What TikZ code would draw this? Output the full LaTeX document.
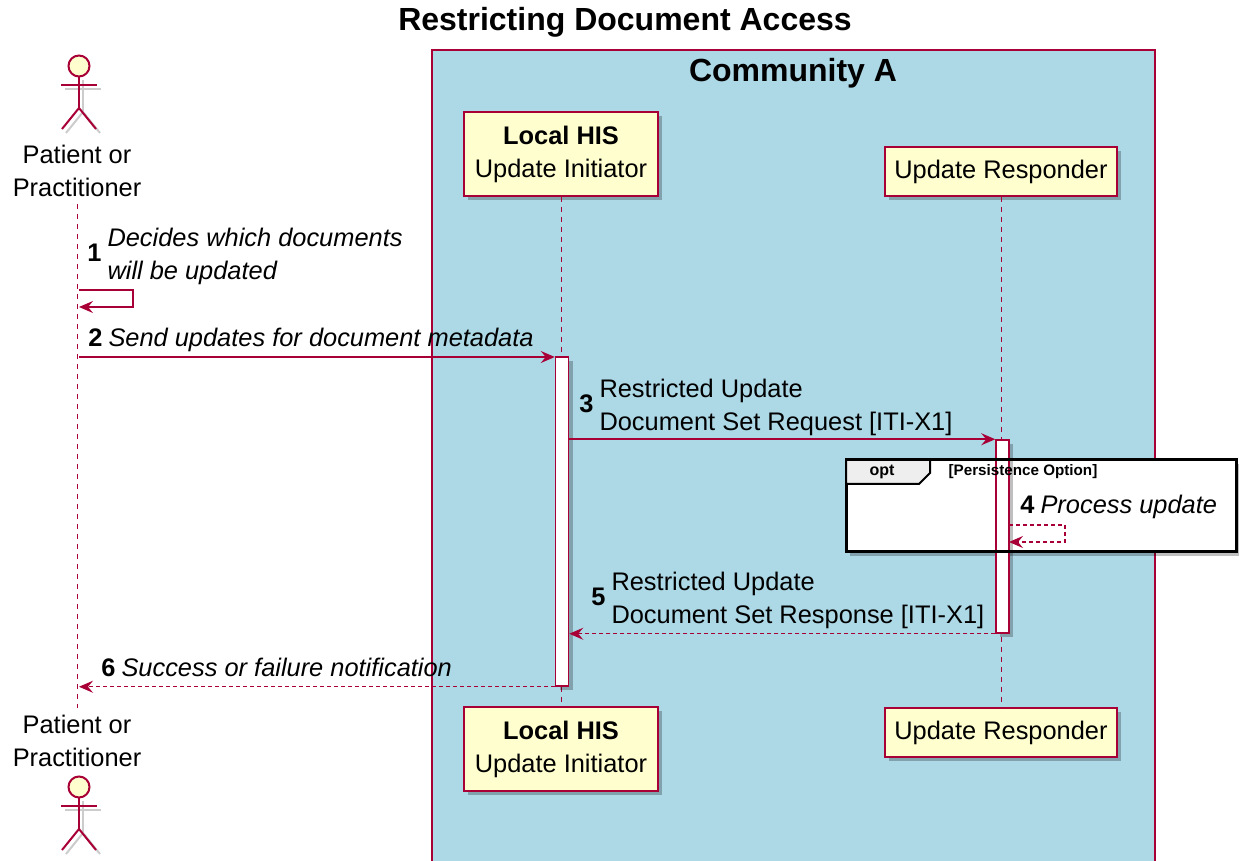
\documentclass[tikz,border=0pt]{standalone}
\usepackage{fontspec}
\setmainfont{Liberation Sans}
\usepackage{tikz}
\usetikzlibrary{shapes.geometric, arrows, arrows.meta, shadows, positioning}

\definecolor{umlred}{HTML}{A80036}
\definecolor{partfill}{HTML}{FEFECE}
\definecolor{commfill}{HTML}{ADD8E6}
\definecolor{tabgray}{HTML}{EEEEEE}

\newcommand{\msgfont}{\fontsize{12.7}{16.5}\selectfont}
\newcommand{\bigtitlefont}{\bfseries\fontsize{16}{19}\selectfont}

\tikzstyle{boxshadow} = [drop shadow={shadow xshift=2pt, shadow yshift=-2pt, fill=black, opacity=0.25}]
\tikzstyle{participant} = [rectangle, text centered, align=center, draw=umlred, line width=0.75pt, fill=partfill, font=\msgfont, boxshadow]
\tikzstyle{actbar} = [rectangle, draw=umlred, line width=0.75pt, fill=white, minimum width=6.5pt, inner sep=0pt, boxshadow]
\tikzstyle{lifeline} = [umlred, line width=0.5pt, dash pattern=on 2.5pt off 2.5pt]
\tikzstyle{msg} = [umlred, line width=0.75pt, ->, >={Stealth[length=7pt, width=6pt, inset=2.5pt]}]
\tikzstyle{reply} = [msg, dash pattern=on 2pt off 1.5pt]
\tikzstyle{msglabel} = [anchor=west, inner sep=0pt, font=\msgfont]
\tikzstyle{optframe} = [draw=black, line width=1.5pt]
\tikzstyle{actorline} = [umlred, line width=1pt]

\begin{document}
\begin{tikzpicture}[x=0.5pt, y=-0.5pt]
	\useasboundingbox (0,0) rectangle (1239,861);

	% title and community box
	\node (title) at (625,22) {\bigtitlefont Restricting Document Access};
	\draw [draw=umlred, fill=commfill, line width=0.6pt] (432,50) rectangle (1155,875);
	\node (commtitle) at (793,73) {\bigtitlefont Community A};

	% actors
	\foreach \ay in {0,721} {
		\begin{scope}[xshift=2pt, yshift=-2pt, black!20, line width=1pt]
			\draw (61,{85+\ay}) -- (97,{85+\ay});
			\draw (79,{76+\ay}) -- (79,{108+\ay});
			\draw (62,{129+\ay}) -- (79,{108+\ay}) -- (96,{129+\ay});
		\end{scope}
		\draw [actorline, fill=partfill] (79,{66+\ay}) circle (5.25pt);
		\draw [actorline] (61,{85+\ay}) -- (97,{85+\ay});
		\draw [actorline] (79,{76+\ay}) -- (79,{108+\ay});
		\draw [actorline] (62,{129+\ay}) -- (79,{108+\ay}) -- (96,{129+\ay});
	}
	\node (pat) [align=center, font=\msgfont] at (77,171) {Patient or\\Practitioner};
	\node (patb) [align=center, font=\msgfont] at (77,741) {Patient or\\Practitioner};

	% participants
	\node (his) [participant, minimum width=97pt, minimum height=42pt] at (561,154) {\textbf{Local HIS}\\Update Initiator};
	\node (resp) [participant, minimum width=116pt, minimum height=24.5pt] at (1001,171.5) {Update Responder};
	\node (hisb) [participant, minimum width=97pt, minimum height=42pt] at (561,749) {\textbf{Local HIS}\\Update Initiator};
	\node (respb) [participant, minimum width=116pt, minimum height=24.5pt] at (1001,732.5) {Update Responder};

	% lifelines
	\draw [lifeline] (pat) -- (patb);
	\draw [lifeline] (his) -- (hisb);
	\draw [lifeline] (resp) -- (respb);

	% opt frame background
	\fill [white, boxshadow] (846,460) rectangle (1236,552);

	% activations
	\node (hisbar) [actbar, minimum height=164.5pt] at (562,521.5) {};
	\node (respbar) [actbar, minimum height=96.5pt] at (1002.5,536.5) {};

	% opt frame
	\draw [optframe] (846,460) rectangle (1236,552);
	\draw [black, line width=1pt, fill=tabgray] (846,460) -- (930,460) -- (930,473) -- (919,484) -- (846,484) -- cycle;
	\node (opt) at (882,472) {\bfseries\fontsize{8}{9}\selectfont opt};
	\node (optguard) at (1023,472) {\bfseries\fontsize{7.6}{9}\selectfont [Persistence Option]};

	% messages
	\coordinate (m1) at (79,290);
	\draw [msg] (m1) -- ++(54,0) -- ++(0,17) -- ++(-54,0);
	\node (l1) [msglabel] at (87,256) {\textbf{1}\hspace{3pt}\begin{tabular}{@{}l@{}}\itshape Decides which documents\\\itshape will be updated\end{tabular}};

	\coordinate (m2) at (79,357);
	\draw [msg] (m2) -- (m2 -| hisbar.west);
	\node (l2) [msglabel] at (88,340) {\textbf{2}\hspace{3pt}\textit{Send updates for document metadata}};

	\draw [msg] (hisbar.east |- respbar.north) -- (respbar.north west);
	\node (l3) [msglabel] at (579,407) {\textbf{3}\hspace{3pt}\begin{tabular}{@{}l@{}}Restricted Update\\Document Set Request [ITI-X1]\end{tabular}};

	\coordinate (m4) at (1009,525);
	\draw [reply] (m4) -- ++(56,0) -- ++(0,17) -- ++(-56,0);
	\node (l4) [msglabel] at (1020,507) {\textbf{4}\hspace{3pt}\textit{Process update}};

	\draw [reply] (respbar.south west) -- (respbar.south west -| hisbar.east);
	\node (l5) [msglabel] at (591,600) {\textbf{5}\hspace{3pt}\begin{tabular}{@{}l@{}}Restricted Update\\Document Set Response [ITI-X1]\end{tabular}};

	\coordinate (m6) at (79,685);
	\draw [reply] (hisbar.south west) -- (hisbar.south west -| m6);
	\node (l6) [msglabel] at (101,667) {\textbf{6}\hspace{3pt}\textit{Success or failure notification}};
\end{tikzpicture}
\end{document}
